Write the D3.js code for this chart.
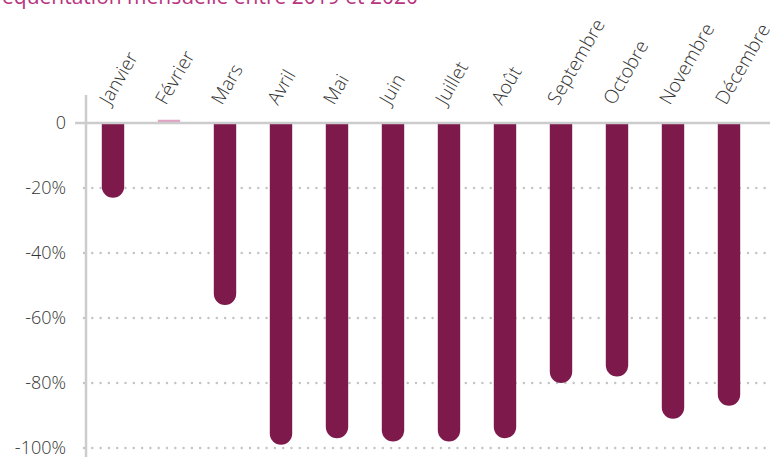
<!DOCTYPE html>
<html>
<head>
<meta charset="utf-8">
<script src="https://cdn.jsdelivr.net/npm/d3@7"></script>
<style>
body{margin:0;background:#fff;}
svg{display:block;}
</style>
</head>
<body>
<div id="container"></div>
<script>
var months = ["Janvier","Février","Mars","Avril","Mai","Juin","Juillet","Août","Septembre","Octobre","Novembre","Décembre"];
var variation = [-23, 1, -56, -99, -97, -98, -98, -97, -80, -78, -91, -87];
var yTicks = [0, -20, -40, -60, -80, -100];
var titleText = "Évolution de la fréquentation mensuelle entre 2019 et 2020";

var w = 778, h = 457;
var svg = d3.select("#container").append("svg").attr("width", w).attr("height", h);

var x = d3.scaleBand().domain(months).range([85, 757]).paddingInner(0.6).paddingOuter(0.3);
var y = d3.scaleLinear().domain([0, -100]).range([123, 448]);

// title (cut at the top, as in the source)
svg.append("text")
	.attr("x", 418)
	.attr("y", 4)
	.attr("text-anchor", "end")
	.attr("fill", "#b8347f")
	.style("font-family", "Open Sans")
	.style("font-size", "21px")
	.text(titleText);

// dotted grid
svg.selectAll(".grid")
	.data(yTicks.filter(function(d){ return d != 0; }))
	.enter()
	.append("line")
	.attr("class", "grid")
	.attr("x1", 84)
	.attr("x2", 772)
	.attr("y1", function(d){ return y(d); })
	.attr("y2", function(d){ return y(d); })
	.attr("stroke", "#c4c4c4")
	.attr("stroke-width", 2.5)
	.attr("stroke-dasharray", "0,8.3")
	.attr("stroke-linecap", "round");

// y labels
svg.selectAll(".ylab")
	.data(yTicks)
	.enter()
	.append("text")
	.attr("class", "ylab")
	.attr("x", 66)
	.attr("y", function(d){ return y(d); })
	.attr("dy", "0.36em")
	.attr("text-anchor", "end")
	.attr("fill", "#333")
	.style("font-family", "Open Sans")
	.style("font-weight", 300)
	.style("font-size", "18px")
	.text(function(d){ return d == 0 ? "0" : d + "%"; });

// bars with a round end
var bw = x.bandwidth(), r = bw / 2;
svg.selectAll(".bar")
	.data(months)
	.enter()
	.append("path")
	.attr("class", "bar")
	.attr("fill", function(d, i){ return variation[i] > 0 ? "#e3a3c6" : "#7d1a4b"; })
	.attr("d", function(d, i){
		var v = variation[i], x0 = x(d), y0 = y(0) + 1;
		if (v > 0) return "M" + x0 + "," + (y0 - 1) + "V" + y(v) + "H" + (x0 + bw) + "V" + (y0 - 1) + "Z";
		var yb = y(v);
		return "M" + x0 + "," + y0 + "V" + (yb - r) +
			"A" + r + "," + r + " 0 0 0 " + (x0 + bw) + "," + (yb - r) +
			"V" + y0 + "Z";
	});

// axes lines
svg.append("line")
	.attr("x1", 75).attr("x2", 770)
	.attr("y1", y(0)).attr("y2", y(0))
	.attr("stroke", "#cccccc").attr("stroke-width", 2.5);
svg.append("line")
	.attr("x1", 86).attr("x2", 86)
	.attr("y1", 95).attr("y2", 457)
	.attr("stroke", "#cccccc").attr("stroke-width", 2.5);

// month labels
svg.selectAll(".mlab")
	.data(months)
	.enter()
	.append("text")
	.attr("class", "mlab")
	.attr("transform", function(d){ return "translate(" + (x(d) + bw / 2 - 3) + ",106) rotate(-60)"; })
	.attr("fill", "#333")
	.style("font-family", "Open Sans")
	.style("font-weight", 300)
	.style("font-size", "19px")
	.text(function(d){ return d; });
</script>
</body>
</html>
